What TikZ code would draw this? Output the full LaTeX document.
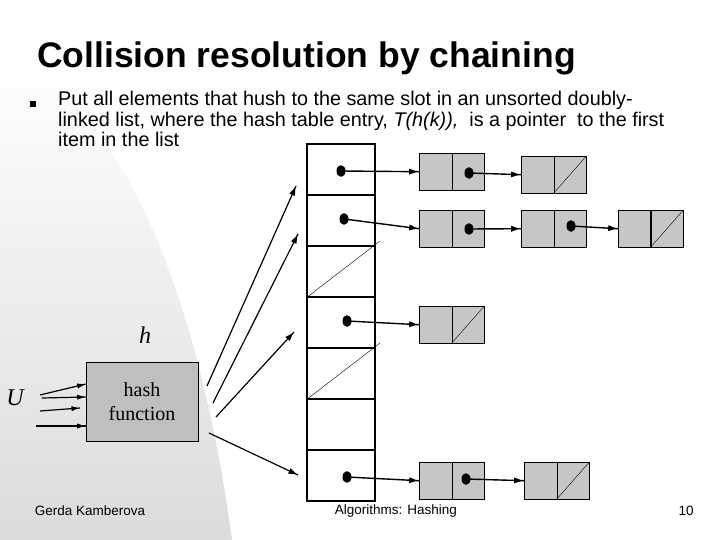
\documentclass[tikz,border=0pt]{standalone}
\usepackage{fontspec}
\setmainfont{Liberation Serif}
\setsansfont{Liberation Sans}
\usetikzlibrary{shapes.geometric}
\begin{document}
\begin{tikzpicture}[x=1pt,y=1pt,
  cell/.style={draw,line width=2pt,minimum width=68pt,minimum height=51pt,inner sep=0,anchor=north west},
  half/.style={draw,fill=gray!45,minimum width=32.5pt,minimum height=37pt,inner sep=0,anchor=north west},
  ptr/.style={line width=1.4pt},
  tip/.style={isosceles triangle,isosceles triangle stretches,fill=black,inner sep=0,minimum height=8pt,minimum width=6pt,sloped,pos=1,anchor=apex},
  dotn/.style={circle,fill=black,minimum size=9pt,inner sep=0,yscale=1.3},
  inarr/.style={line width=1.2pt}]
\useasboundingbox (0,0) rectangle (720,-540);
% background shading
\shade[top color=white,bottom color=gray!28] (0,-540) -- (0,-60) .. controls (120,-90) and (200,-300) .. (232,-540) -- cycle;
% title and text
\node[anchor=west,font=\sffamily\bfseries\fontsize{35.5}{38}\selectfont,inner sep=0] (title) at (37,-58) {Collision resolution by chaining};
\node[fill=black,minimum size=6pt,inner sep=0] (bul) at (33,-104) {};
\node[anchor=north west,align=left,font=\sffamily\fontsize{19.8}{20.5}\selectfont,inner sep=0] (txt) at (58,-91)
 {Put all elements that hush to the same slot in an unsorted doubly-\\linked list, where the hash table entry, \textit{T(h(k)),}\ \ is a pointer\ \ to the first\\item in the list};
% table
\foreach \i/\y in {1/143,2/194,3/245,4/296,5/347,6/398,7/449}
  \node[cell] (c\i) at (306,-\y) {};
\draw[thin] (c3.south west) -- (380,-241);
\draw[thin] (c5.south west) -- (380,-343);
% list boxes
\newcommand{\lbox}[3]{%
  \node[half] (#1l) at (#2,-#3) {};
  \node[half] (#1r) at (#2+32.5,-#3) {};}
\lbox{a}{419}{153} \lbox{b}{521}{156}
\lbox{d}{419}{210} \lbox{e}{521}{210} \lbox{f}{618}{210}
\lbox{g}{419}{306}
\lbox{h}{419}{462} \lbox{i}{524}{462}
\foreach \n in {b,f,g,i} \draw (\n r.south west) -- (\n r.north east);
\draw[line width=1.5pt] (fr.north west) -- (fr.south west);
% dots
\node[dotn] (p1) at (341,-171) {};
\node[dotn] (p2) at (344,-219) {};
\node[dotn] (p4) at (347,-321) {};
\node[dotn] (p7) at (347,-477) {};
\node[dotn] (qa) at (469,-173) {};
\node[dotn] (qd) at (469,-229) {};
\node[dotn] (qe) at (571,-226) {};
\node[dotn] (qh) at (466,-479) {};
\draw[ptr] (p1.center) -- (al.west) node[tip]{};
\draw[ptr] (p2.center) -- (dl.west) node[tip]{};
\draw[ptr] (p4.center) -- (gl.west) node[tip]{};
\draw[ptr] (p7.center) -- (hl.west) node[tip]{};
\draw[ptr] (qa.center) -- (bl.west) node[tip]{};
\draw[ptr] (qd.center) -- (el.west) node[tip]{};
\draw[ptr] (qe.center) -- (fl.west) node[tip]{};
\draw[ptr] (qh.center) -- (il.west) node[tip]{};
% hash function
\node[draw,fill=gray!50,minimum width=112pt,minimum height=79pt,align=center,font=\fontsize{20}{24}\selectfont] (hf) at (142,-402) {hash\\function};
\node[font=\itshape\fontsize{24}{26}\selectfont] (hlab) at (145,-335) {h};
\node[font=\itshape\fontsize{24}{26}\selectfont] (U) at (15,-398) {U};
\coordinate (u1) at (40,-395); \coordinate (u2) at (42,-398);
\coordinate (u3) at (40,-411); \coordinate (u4) at (36,-426);
\draw[inarr] (u1) -- (hf.west |- 0,-384) node[tip,minimum height=7pt,minimum width=5pt]{};
\draw[inarr] (u2) -- (hf.west |- 0,-397) node[tip,minimum height=7pt,minimum width=5pt]{};
\draw[inarr] (u3) -- (80,-408) node[tip,minimum height=7pt,minimum width=5pt]{};
\draw[inarr] (u4) -- (hf.west |- 0,-426) node[tip,minimum height=7pt,minimum width=5pt]{};
\coordinate (o1) at (207,-386); \coordinate (o2) at (213,-403);
\coordinate (o3) at (216,-417); \coordinate (o4) at (209,-433);
\coordinate (t1) at (296,-186); \coordinate (t2) at (298,-234);
\coordinate (t3) at (294,-332); \coordinate (t4) at (298,-475);
\foreach \k in {1,2,3,4} \draw[ptr,line width=1.2pt] (o\k) -- (t\k) node[tip]{};
% footer
\node[font=\sffamily\fontsize{13.5}{15}\selectfont] (f1) at (90,-511) {Gerda Kamberova};
\node[font=\sffamily\fontsize{13.5}{15}\selectfont] (f2) at (396,-511) {Algorithms: Hashing};
\node[font=\sffamily\fontsize{13.5}{15}\selectfont] (f3) at (686,-511) {10};
\end{tikzpicture}
\end{document}
